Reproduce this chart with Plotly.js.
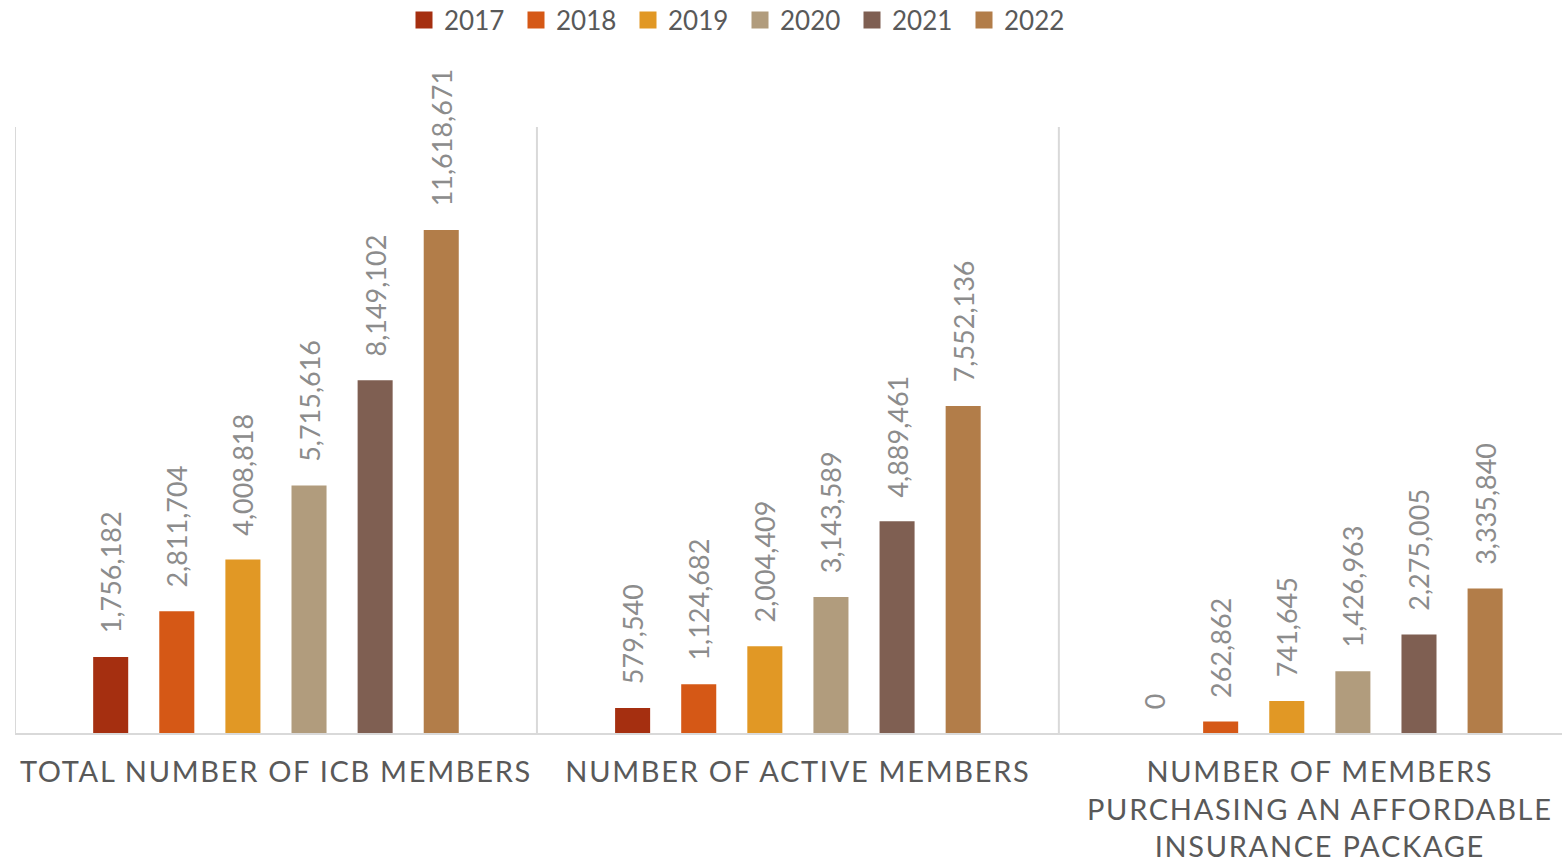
<!DOCTYPE html>
<html>
<head>
<meta charset="utf-8">
<script src="https://cdn.plot.ly/plotly-3.0.1.min.js"></script>
<style>
html,body{margin:0;padding:0;background:#fff;}
#chart{width:1562px;height:859px;}
.xtick text{letter-spacing:1.7px;}
</style>
</head>
<body>
<div id="chart"></div>
<script>
var categories = ["TOTAL NUMBER OF ICB MEMBERS", "NUMBER OF ACTIVE MEMBERS", "NUMBER OF MEMBERS<br>PURCHASING AN AFFORDABLE<br>INSURANCE PACKAGE"];
var years = ["2017", "2018", "2019", "2020", "2021", "2022"];
var v2017 = [1756182, 579540, 0];
var v2018 = [2811704, 1124682, 262862];
var v2019 = [4008818, 2004409, 741645];
var v2020 = [5715616, 3143589, 1426963];
var v2021 = [8149102, 4889461, 2275005];
var v2022 = [11618671, 7552136, 3335840];
var seriesValues = [v2017, v2018, v2019, v2020, v2021, v2022];
var colors = ["#A52F10", "#D55816", "#E19825", "#B19C7D", "#7F5F52", "#B27D49"];

var FONT = "Lato, 'Open Sans', sans-serif";
var traces = years.map(function(y, i){
  return {
    type: "bar",
    name: y,
    x: categories,
    y: seriesValues[i],
    marker: {color: colors[i], line: {width: 0}},
    text: seriesValues[i].map(function(v){ return "\u00a0\u00a0\u00a0" + v.toLocaleString("en-US"); }),
    texttemplate: "%{text}",
    textposition: "outside",
    textangle: -90,
    constraintext: "none",
    cliponaxis: false,
    textfont: {family: FONT, size: 27, color: "#8C8C8C"},
    hoverinfo: "skip"
  };
});

var layout = {
  width: 1562, height: 859,
  paper_bgcolor: "#fff", plot_bgcolor: "#fff",
  margin: {l: 15, r: 0, t: 127, b: 126},
  barmode: "group",
  bargap: 0.24,
  bargroupgap: 0.47,
  font: {family: FONT, color: "#595959"},
  showlegend: true,
  legend: {
    orientation: "h", x: 404 / 1562, xanchor: "left", xref: "container",
    y: 1 - 20 / 859, yanchor: "middle", yref: "container",
    font: {family: FONT, size: 26, color: "#595959"},
    entrywidth: 67, entrywidthmode: "pixels",
    tracegroupgap: 0
  },
  xaxis: {
    type: "category",
    range: [-0.5, 2.464],
    showgrid: false,
    showline: true, linecolor: "#D9D9D9", linewidth: 2,
    ticks: "", ticklabelstandoff: 12,
    tickfont: {family: FONT, size: 29, color: "#595959"},
    fixedrange: true
  },
  yaxis: {
    range: [0, 14000000],
    visible: false,
    showgrid: false, zeroline: false,
    fixedrange: true
  },
  shapes: [-0.5, 0.5, 1.5].map(function(xv){
    return {type: "line", xref: "x", yref: "paper", x0: xv, x1: xv, y0: 0, y1: 1,
            line: {color: "#D9D9D9", width: 2}, layer: "below"};
  })
};

Plotly.newPlot("chart", traces, layout, {displayModeBar: false, staticPlot: true}).then(function(gd){
  gd.querySelectorAll(".legend .traces path").forEach(function(p){
    p.setAttribute("d", "M8.5,8.5H-8.5V-8.5H8.5Z");
  });
});
</script>
</body>
</html>
